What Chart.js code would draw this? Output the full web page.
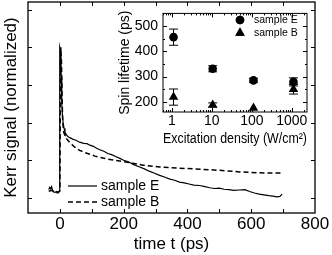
<!DOCTYPE html>
<html>
<head>
<meta charset="utf-8">
<script src="https://cdn.jsdelivr.net/npm/chart.js@4"></script>
<style>
  html, body { margin: 0; padding: 0; background: #fff; }
  #wrap { position: relative; width: 332px; height: 255px; }
  #main { position: absolute; left: 0; top: 0; }
  #inset { position: absolute; left: 100px; top: 0; }
</style>
</head>
<body>
<div id="wrap">
  <canvas id="main" width="332" height="255"></canvas>
  <canvas id="inset" width="232" height="160"></canvas>
</div>
<script>
// main panel: Kerr traces, time in ps, signal normalized
const timeE = [-35,-32,-29,-26,-23,-20,-15,-10,-5,-2,-1,0,2,4,6,8,10,13,16,20,25,31,40,50,62,75,85,94,105,115,125,138,150,162,175,188,200,215,230,250,265,280,295,313,330,345,360,375,390,405,420,438,455,470,485,500,515,530,545,563,580,595,610,625,640,655,668,680,690,697];
const kerrE = [0.22,0.28,0.24,0.3,0.2,0.16,0.15,0.17,0.15,0.18,3.0,4.0,3.9,3.2,2.5,2.2,2.0,1.85,1.74,1.68,1.63,1.6,1.56,1.53,1.48,1.45,1.44,1.4,1.37,1.32,1.28,1.24,1.18,1.15,1.1,1.05,1.0,0.96,0.89,0.82,0.77,0.71,0.66,0.6,0.55,0.5,0.47,0.42,0.4,0.37,0.34,0.33,0.3,0.27,0.25,0.26,0.23,0.22,0.2,0.21,0.22,0.17,0.13,0.1,0.08,0.06,0.05,0.03,0.04,0.1];
const timeB = [-35,-25,-15,-5,0,1,3,5,7,9,12,16,20,31,45,62,80,94,110,125,150,188,228,260,313,375,420,469,520,563,620,660,694];
const kerrB = [0.18,0.2,0.15,0.14,0.2,2.0,4.0,3.6,2.6,2.0,1.75,1.65,1.58,1.47,1.36,1.26,1.2,1.16,1.11,1.08,1.03,0.98,0.92,0.87,0.82,0.79,0.77,0.75,0.72,0.69,0.67,0.66,0.66];
const timeTicks = [0, 200, 400, 600, 800];
const timeMarks = [0, 100, 200, 300, 400, 500, 600, 700];
const kerrMarks = [0, 1, 2, 3, 4, 5];

// inset: spin lifetime (ps) vs excitation density (W/cm2)
const density = [1.1, 10.5, 110, 1100];
const lifetimeE = [456, 331, 285, 279];
const errE = [32, 12, 8, 16];
const lifetimeB = [219, 188, 176, 250];
const errB = [32, 8, 0, 19];
const densityTicks = [1, 10, 100, 1000];
const lifetimeTicks = [200, 300, 400, 500];
const lifetimeMinor = [250, 350, 450];

const FONT = '"Liberation Sans", Arial, Helvetica, sans-serif';
Chart.defaults.font.family = FONT;
Chart.defaults.color = '#000';

const pts = (xs, ys) => xs.map((x, i) => ({ x, y: ys[i] }));

// box around the plot area + inward tick marks on all four sides
const framePlugin = {
  id: 'frame',
  afterDatasetsDraw(chart, args, o) {
    const { ctx, chartArea: a, scales: { x, y } } = chart;
    ctx.save();
    ctx.strokeStyle = '#000';
    ctx.lineWidth = 1;
    ctx.beginPath();
    (o.xMarks || []).forEach(([v, len]) => {
      const p = Math.round(x.getPixelForValue(v)) + 0.5;
      ctx.moveTo(p, a.bottom); ctx.lineTo(p, a.bottom - len);
      ctx.moveTo(p, a.top); ctx.lineTo(p, a.top + len);
    });
    (o.yMarks || []).forEach(([v, len]) => {
      const p = Math.round(y.getPixelForValue(v)) + 0.5;
      ctx.moveTo(a.left, p); ctx.lineTo(a.left + len, p);
      ctx.moveTo(a.right, p); ctx.lineTo(a.right - len, p);
    });
    ctx.stroke();
    ctx.lineWidth = o.border || 1.2;
    ctx.strokeRect(a.left, a.top, a.width, a.height);
    ctx.restore();
  }
};

// vertical error bars with caps
const errorPlugin = {
  id: 'errbars',
  beforeDatasetsDraw(chart, args, o) {
    if (!o.bars) return;
    const { ctx, scales: { x, y } } = chart;
    ctx.save();
    ctx.strokeStyle = '#000';
    ctx.lineWidth = 1;
    o.bars.forEach((errs, di) => {
      chart.data.datasets[di].data.forEach((p, i) => {
        const e = errs[i];
        if (!e) return;
        const px = x.getPixelForValue(p.x);
        const top = y.getPixelForValue(p.y + e), bot = y.getPixelForValue(p.y - e);
        ctx.beginPath();
        ctx.moveTo(px, top); ctx.lineTo(px, bot);
        ctx.moveTo(px - o.cap, top); ctx.lineTo(px + o.cap, top);
        ctx.moveTo(px - o.cap, bot); ctx.lineTo(px + o.cap, bot);
        ctx.stroke();
      });
    });
    ctx.restore();
  }
};

// hand-placed legend, drawn from the dataset styles
const keyPlugin = {
  id: 'key',
  afterDraw(chart, args, o) {
    const { ctx } = chart;
    ctx.save();
    ctx.font = o.size + 'px ' + FONT;
    ctx.textBaseline = 'middle';
    ctx.fillStyle = '#000';
    chart.data.datasets.forEach((ds, i) => {
      const yy = o.y + i * o.dy;
      if (o.mode === 'line') {
        ctx.strokeStyle = '#000';
        ctx.lineWidth = ds.borderWidth;
        ctx.setLineDash(ds.borderDash || []);
        ctx.beginPath();
        ctx.moveTo(o.x, yy); ctx.lineTo(o.x + o.len, yy);
        ctx.stroke();
        ctx.setLineDash([]);
        ctx.fillText(ds.label, o.x + o.len + o.gap, yy);
      } else {
        ctx.fillStyle = '#000';
        Chart.helpers.drawPoint(ctx, { pointStyle: ds.pointStyle, radius: ds.pointRadius, rotation: 0 }, o.x, yy);
        ctx.fill();
        ctx.fillText(ds.label, o.x + o.gap, yy);
      }
    });
    ctx.restore();
  }
};

new Chart(document.getElementById('main'), {
  type: 'line',
  data: {
    datasets: [
      { label: 'sample E', data: pts(timeE, kerrE), borderColor: '#000', borderWidth: 1.2, pointRadius: 0, tension: 0, fill: false },
      { label: 'sample B', data: pts(timeB, kerrB), borderColor: '#000', borderWidth: 1.5, borderDash: [5, 3], pointRadius: 0, tension: 0, fill: false }
    ]
  },
  options: {
    responsive: false,
    animation: false,
    events: [],
    layout: { padding: { top: 2, right: 17, left: 0, bottom: 0 } },
    plugins: {
      legend: { display: false },
      tooltip: { enabled: false },
      frame: { xMarks: timeMarks.map(v => [v, 4]), yMarks: kerrMarks.map(v => [v, 4]), border: 1.3 },
      key: { mode: 'line', x: 68, y: 186, dy: 16, len: 29, gap: 4, size: 14 }
    },
    scales: {
      x: {
        type: 'linear', min: -100, max: 800,
        afterBuildTicks: s => { s.ticks = timeTicks.map(v => ({ value: v })); },
        afterFit: s => { s.height = 42; },
        grid: { display: false, drawTicks: false },
        border: { display: false },
        ticks: { color: '#000', font: { size: 17 }, padding: 1, maxRotation: 0 },
        title: { display: true, text: 'time t (ps)', color: '#000', font: { size: 17 }, padding: { top: 0, bottom: 0 } }
      },
      y: {
        type: 'linear', min: -0.4, max: 5.2,
        afterFit: s => { s.width = 28; },
        grid: { display: false, drawTicks: false },
        border: { display: false },
        ticks: { display: false },
        title: { display: true, text: 'Kerr signal (normalized)', color: '#000', font: { size: 17 }, padding: { top: 1, bottom: 0 } }
      }
    }
  },
  plugins: [framePlugin, keyPlugin]
});

const logMarks = [];
[0.1, 1, 10, 100, 1000].forEach(d => {
  for (let k = 1; k <= 9; k++) {
    const v = d * k;
    if (v > 0.6 && v < 2400) logMarks.push([v, k === 1 ? 4 : 2]);
  }
});

new Chart(document.getElementById('inset'), {
  type: 'scatter',
  data: {
    datasets: [
      { label: 'sample E', data: pts(density, lifetimeE), pointStyle: 'circle', pointRadius: 4.3, backgroundColor: '#000', borderColor: '#000', borderWidth: 0 },
      { label: 'sample B', data: pts(density, lifetimeB), pointStyle: 'triangle', pointRadius: 5.5, backgroundColor: '#000', borderColor: '#000', borderWidth: 0 }
    ]
  },
  options: {
    responsive: false,
    animation: false,
    events: [],
    layout: { padding: { top: 9, right: 25, left: 0, bottom: 0 } },
    plugins: {
      legend: { display: false },
      tooltip: { enabled: false },
      errbars: { bars: [errE, errB], cap: 4.5 },
      frame: { xMarks: logMarks, yMarks: lifetimeTicks.map(v => [v, 4]).concat(lifetimeMinor.map(v => [v, 2])), border: 1 },
      key: { mode: 'point', x: 140, y: 20, dy: 13, gap: 14, size: 10.5 }
    },
    scales: {
      x: {
        type: 'logarithmic', min: 0.6, max: 2400,
        afterBuildTicks: s => { s.ticks = densityTicks.map(v => ({ value: v })); },
        afterFit: s => { s.height = 48; },
        grid: { display: false, drawTicks: false },
        border: { display: false },
        ticks: { color: '#000', font: { size: 14 }, padding: 1, maxRotation: 0, callback: v => String(v) },
        title: { display: true, text: 'Excitation density (W/cm²)', color: '#000', font: { size: 14 }, padding: { top: 0, bottom: 12 } }
      },
      y: {
        type: 'linear', min: 160, max: 550,
        afterBuildTicks: s => { s.ticks = lifetimeTicks.map(v => ({ value: v })); },
        afterFit: s => { s.width = 63; },
        grid: { display: false, drawTicks: false },
        border: { display: false },
        ticks: { color: '#000', font: { size: 14 }, padding: 5 },
        title: { display: true, text: 'Spin lifetime (ps)', color: '#000', font: { size: 14 }, padding: { top: 17, bottom: 0 } }
      }
    }
  },
  plugins: [framePlugin, errorPlugin, keyPlugin]
});
</script>
</body>
</html>
